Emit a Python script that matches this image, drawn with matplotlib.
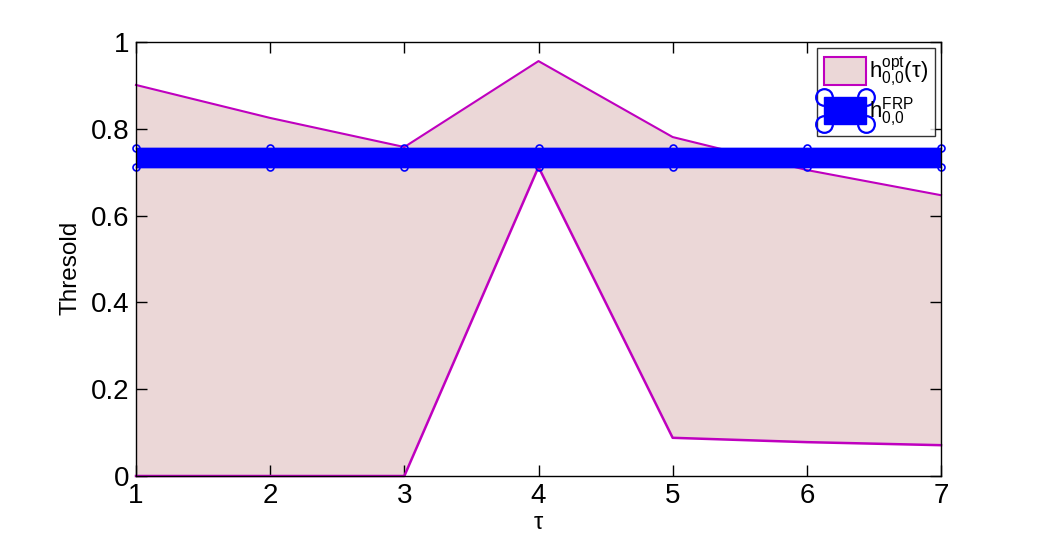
import matplotlib
matplotlib.use("Agg")
import matplotlib.pyplot as plt
from matplotlib.patches import Rectangle
from matplotlib.lines import Line2D
from matplotlib.legend_handler import HandlerBase

plt.rcParams['font.family'] = ['Liberation Sans', 'DejaVu Sans']
plt.rcParams['mathtext.fontset'] = 'custom'
plt.rcParams['mathtext.rm'] = 'Liberation Sans'
plt.rcParams['mathtext.it'] = 'Liberation Sans'

tau = [1, 2, 3, 4, 5, 6, 7]
opt_upper = [0.901, 0.825, 0.758, 0.956, 0.781, 0.705, 0.647]
opt_lower = [0.0, 0.0, 0.0, 0.712, 0.088, 0.078, 0.071]
frp_upper = [0.756, 0.756, 0.756, 0.756, 0.756, 0.756, 0.756]
frp_lower = [0.712, 0.712, 0.712, 0.712, 0.712, 0.712, 0.712]
xticks = [1, 2, 3, 4, 5, 6, 7]
yticks = [0, 0.2, 0.4, 0.6, 0.8, 1]
yticklabels = ['0', '0.2', '0.4', '0.6', '0.8', '1']

pink = '#EBD7D7'
mag = '#BF00BF'
blue = '#0000FF'

fig = plt.figure(figsize=(10.39, 5.41), dpi=100)
ax = fig.add_axes([136/1039, 1-476/541, (941-136)/1039, (476-42)/541])

ax.fill_between(tau, opt_lower, opt_upper, facecolor=pink, edgecolor='none', zorder=1)
ax.plot(tau, opt_upper, color=mag, lw=1.5, zorder=2, clip_on=False)
ax.plot(tau, opt_lower, color=mag, lw=1.8, zorder=2, clip_on=False)
ax.fill_between(tau, frp_lower, frp_upper, facecolor=blue, edgecolor=blue, lw=1, zorder=3)
ax.plot(tau, frp_upper, color=blue, lw=1, marker='o', ms=5, mfc='none', mec=blue, mew=1.2, zorder=4, clip_on=False)
ax.plot(tau, frp_lower, color=blue, lw=1, marker='o', ms=5, mfc='none', mec=blue, mew=1.2, zorder=4, clip_on=False)

ax.set_xlim(1, 7)
ax.set_ylim(0, 1)
ax.set_xticks(xticks)
ax.set_yticks(yticks)
ax.set_yticklabels(yticklabels)
ax.tick_params(direction='in', length=8, width=1, labelsize=20, top=True, right=True, pad=5)
for s in ax.spines.values():
    s.set_linewidth(1)
    s.set_zorder(5)
ax.set_xlabel(r'$\tau$', fontsize=17, labelpad=2)
ax.set_ylabel('Thresold', fontsize=17.5)
ax.yaxis.set_label_coords(-0.068, 0.48)


class HandlerFRP(HandlerBase):
    def create_artists(self, legend, orig_handle, xdescent, ydescent, width, height, fontsize, trans):
        r = Rectangle((-xdescent, -ydescent), width, height, facecolor=blue, edgecolor=blue, transform=trans)
        xs = [-xdescent, -xdescent + width]
        ys = [-ydescent, -ydescent + height]
        arts = [r]
        for yy in ys:
            ln = Line2D(xs, [yy, yy], linestyle='none', marker='o', ms=12, mfc='none', mec=blue, mew=1.6, transform=trans)
            arts.append(ln)
        return arts


h1 = Rectangle((0, 0), 1, 1, facecolor=pink, edgecolor=mag, lw=1.5)
h2 = Rectangle((0, 0), 1, 1)
leg = ax.legend([h1, h2], [r'$\mathregular{h}^{\mathregular{opt}}_{\mathregular{0{,}0}}(\tau)$',
                           r'$\mathregular{h}^{\mathregular{FRP}}_{\mathregular{0{,}0}}$'],
                handler_map={h2: HandlerFRP()}, loc='upper right',
                bbox_to_anchor=(1 - 6/805, 1 - 6/434), fontsize=16, frameon=True, fancybox=False,
                edgecolor='black', handlelength=1.9, handleheight=1.5, handletextpad=0.15,
                borderpad=0.3, labelspacing=0.3, borderaxespad=0)
leg.get_frame().set_linewidth(1)
leg.set_zorder(10)

fig.savefig('out.png', dpi=100)
